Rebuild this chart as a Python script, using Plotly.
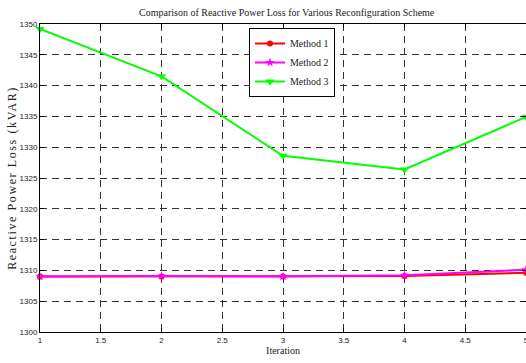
import plotly.graph_objects as go

iterations = [1, 2, 3, 4, 5]
method1 = [1309.0, 1309.0, 1309.0, 1309.1, 1309.6]
method2 = [1309.0, 1309.1, 1309.0, 1309.2, 1310.1]
method3 = [1349.2, 1341.5, 1328.6, 1326.4, 1334.9]

series_names = ["Method 1", "Method 2", "Method 3"]
x_ticks = [1, 1.5, 2, 2.5, 3, 3.5, 4, 4.5, 5]
y_ticks = [1300, 1305, 1310, 1315, 1320, 1325, 1330, 1335, 1340, 1345, 1350]

serif = "Liberation Serif, Times New Roman, serif"
narrow = "Liberation Sans Narrow, Arial Narrow, Liberation Sans, sans-serif"

fig = go.Figure()
styles = [
    dict(color="#ff0000", symbol="circle", size=6),
    dict(color="#ff00ff", symbol="star", size=7),
    dict(color="#00ff00", symbol="triangle-down", size=8),
]
for name, ys, st in zip(series_names, [method1, method2, method3], styles):
    fig.add_trace(go.Scatter(
        x=iterations, y=ys, name=name, mode="lines+markers",
        line=dict(color=st["color"], width=2),
        marker=dict(color=st["color"], symbol=st["symbol"], size=st["size"]),
        cliponaxis=False,
    ))

axis_common = dict(
    showline=True, linecolor="black", linewidth=1, mirror="ticks",
    ticks="inside", ticklen=4, tickcolor="black",
    showgrid=True, gridcolor="#333333", gridwidth=1, griddash="7px,5px",
    zeroline=False, automargin=False, ticklabeloverflow="allow",
    tickfont=dict(family=narrow, size=8, color="#222"),
)

fig.update_layout(
    width=526, height=363,
    margin=dict(l=40, r=0, t=24, b=31, autoexpand=False),
    paper_bgcolor="white", plot_bgcolor="white",
    title=dict(
        text="Comparison of Reactive Power Loss for Various Reconfiguration Scheme",
        font=dict(family=serif, size=10, color="#222"),
        x=0.545, xanchor="center", y=0.965, yanchor="middle",
        automargin=False,
    ),
    xaxis=dict(
        range=[1, 5], tickvals=x_ticks, ticktext=[f"{v:g}" for v in x_ticks],
        title=dict(text="Iteration", font=dict(family=serif, size=10, color="#222"), standoff=2),
        **axis_common,
    ),
    yaxis=dict(
        range=[1300, 1350], tickvals=y_ticks, ticktext=[str(v) for v in y_ticks],
        title=dict(text="Reactive Power Loss (kVAR)", font=dict(family=serif, size=12, color="#222"), standoff=0),
        **axis_common,
    ),
    legend=dict(
        x=0.43, y=0.987, xanchor="left", yanchor="top",
        bgcolor="white", bordercolor="black", borderwidth=1,
        font=dict(family=serif, size=10, color="#222"),
        itemwidth=30, tracegroupgap=0,
    ),
    showlegend=True,
)

post = """
document.body.style.margin = '0';
document.body.style.padding = '0';
document.body.style.overflow = 'hidden';
var els = document.querySelectorAll('.ytitle');
els.forEach(function(e){ e.style.letterSpacing = '1.6px'; });
"""
fig.write_html("out.html", post_script=post, config={"displayModeBar": False})
